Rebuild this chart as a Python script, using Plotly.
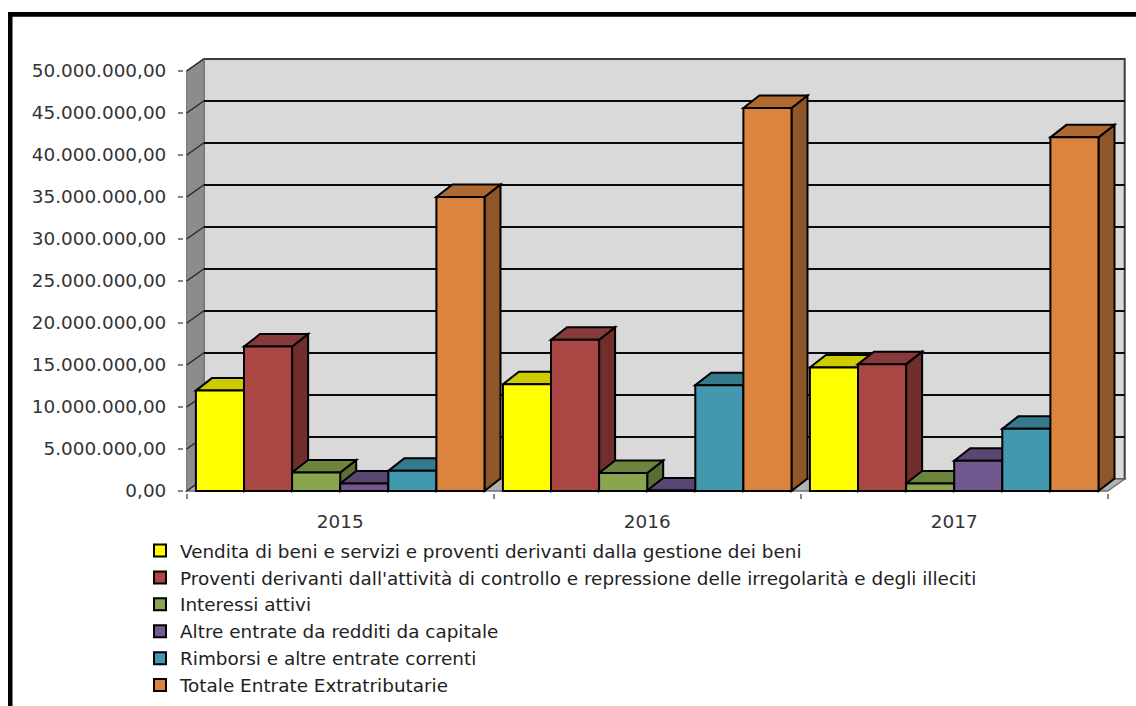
import plotly.graph_objects as go

years = ["2015", "2016", "2017"]
vendita = [11.95e6, 12.7e6, 14.7e6]
proventi = [17.2e6, 18.0e6, 15.1e6]
interessi = [2.2e6, 2.15e6, 0.9e6]
altre = [0.9e6, 0.05e6, 3.6e6]
rimborsi = [2.4e6, 12.6e6, 7.4e6]
totale = [35.0e6, 45.6e6, 42.1e6]

names = [
    "Vendita di beni e servizi e proventi derivanti dalla gestione dei beni",
    "Proventi derivanti dall'attività di controllo e repressione delle irregolarità e degli illeciti",
    "Interessi attivi",
    "Altre entrate da redditi da capitale",
    "Rimborsi e altre entrate correnti",
    "Totale Entrate Extratributarie",
]
series = [vendita, proventi, interessi, altre, rimborsi, totale]
front = ["#FFFF00", "#AA4643", "#89A54E", "#71588F", "#4198AF", "#DB843D"]
top = ["#CCCC00", "#88393A", "#6D843E", "#5A4672", "#34798C", "#AF6931"]
side = ["#A8A800", "#702F2D", "#5A6D33", "#4A3A5E", "#2B6473", "#8F5629"]
y_ticks = [0, 5e6, 10e6, 15e6, 20e6, 25e6, 30e6, 35e6, 40e6, 45e6, 50e6]
y_labels = ["0,00", "5.000.000,00", "10.000.000,00", "15.000.000,00", "20.000.000,00",
            "25.000.000,00", "30.000.000,00", "35.000.000,00", "40.000.000,00",
            "45.000.000,00", "50.000.000,00"]

W, H = 1136, 706
PX_X0, PX_CAT = 186.7, 307.0      # pixel of the first boundary, pixels per category
PX_Y0, PX_UNIT = 491.0, 8.4e-6    # pixel of zero, pixels per unit
L, R, T, B = 184.0, 1127.0, 57.0, 493.0
x_range = [-0.5 - (PX_X0 - L) / PX_CAT, -0.5 + (R - PX_X0) / PX_CAT]
y_range = [-(B - PX_Y0) / PX_UNIT, (PX_Y0 - T) / PX_UNIT]
wall_dx, wall_dy = 17 / PX_CAT, 12 / PX_UNIT
bar_dx, bar_dy = 16 / PX_CAT, 12.5 / PX_UNIT
bargap = 0.06
bar_w = (1 - bargap) / len(series)


def path(points):
    return "M" + " L".join(f"{x:.5f},{y:.1f}" for x, y in points) + " Z"


def face(points, fill, color="#000000", width=2):
    return dict(type="path", path=path(points), xref="x", yref="y", layer="below",
                fillcolor=fill, line=dict(color=color, width=width))


def px_x(p):
    return (p - L) / (R - L)


def px_y(p):
    return (B - p) / (B - T)


xl, xr = -0.5, 2.5
ymax = y_ticks[-1]
shapes = [
    face([(xl + wall_dx, wall_dy), (xr + wall_dx, wall_dy), (xr + wall_dx, ymax + wall_dy),
          (xl + wall_dx, ymax + wall_dy)], "#D9D9D9", "#3C3C3C", 2),
    face([(xl, 0), (xl + wall_dx, wall_dy), (xl + wall_dx, ymax + wall_dy), (xl, ymax)],
         "#8C8C8C", "#808080", 1.5),
    face([(xl, 0), (xr, 0), (xr + wall_dx, wall_dy), (xl + wall_dx, wall_dy)],
         "#B2B2B2", "#707070", 1.5),
]
for t in y_ticks[1:-1]:
    shapes.append(face([(xl + wall_dx, t + wall_dy), (xr + wall_dx, t + wall_dy)], "rgba(0,0,0,0)", "#0A0A0A", 2))
    shapes.append(face([(xl, t), (xl + wall_dx, t + wall_dy)], "rgba(0,0,0,0)", "#2A2A2A", 1.5))
shapes.append(face([(xl, ymax), (xl + wall_dx, ymax + wall_dy)], "rgba(0,0,0,0)", "#2A2A2A", 1.5))
shapes.append(face([(xl, 0), (xl + wall_dx, wall_dy)], "rgba(0,0,0,0)", "#2A2A2A", 1.5))

for c in range(len(years)):
    for s, vals in enumerate(series):
        v = vals[c]
        x0 = c - (1 - bargap) / 2 + s * bar_w
        x1 = x0 + bar_w
        shapes.append(face([(x1, 0), (x1 + bar_dx, bar_dy), (x1 + bar_dx, v + bar_dy), (x1, v)], side[s]))
        shapes.append(face([(x0, v), (x0 + bar_dx, v + bar_dy), (x1 + bar_dx, v + bar_dy), (x1, v)], top[s]))

# outer frame of the picture
shapes.append(dict(type="rect", xref="paper", yref="paper", layer="above",
                   x0=px_x(8), x1=px_x(12.5), y0=px_y(12), y1=px_y(706),
                   fillcolor="#000000", line=dict(width=0)))
shapes.append(dict(type="rect", xref="paper", yref="paper", layer="above",
                   x0=px_x(8), x1=px_x(1136), y0=px_y(12), y1=px_y(16.8),
                   fillcolor="#000000", line=dict(width=0)))

fig = go.Figure()
for s, vals in enumerate(series):
    fig.add_trace(go.Bar(x=years, y=vals, name=names[s],
                         marker=dict(color=front[s], line=dict(color="#000000", width=2))))

fig.update_layout(
    width=W, height=H,
    margin=dict(l=L, r=W - R, t=T, b=H - B, pad=0, autoexpand=False),
    paper_bgcolor="#FFFFFF", plot_bgcolor="rgba(0,0,0,0)",
    barmode="group", bargap=bargap, bargroupgap=0,
    shapes=shapes,
    showlegend=True,
    legend=dict(x=px_x(140), y=px_y(532), xanchor="left", yanchor="top",
                traceorder="normal", bgcolor="rgba(0,0,0,0)",
                font=dict(family="DejaVu Sans", size=18.4, color="#222222")),
    font=dict(family="DejaVu Sans", size=18.4, color="#222222"),
    xaxis=dict(type="category", range=x_range, tickson="boundaries", ticks="outside",
               ticklen=5, tickcolor="#868686", tickwidth=1.5, showgrid=False, showline=False,
               zeroline=False, ticklabelstandoff=16,
               tickfont=dict(family="DejaVu Sans", size=18.4, color="#333333")),
    yaxis=dict(range=y_range, tickvals=y_ticks, ticktext=y_labels, ticks="outside",
               ticklen=5, tickcolor="#868686", tickwidth=1.5, showgrid=False, showline=False,
               zeroline=False, ticklabelstandoff=8,
               tickfont=dict(family="DejaVu Sans", size=18.4, color="#333333")),
)

fig.write_html("out.html", config={"displayModeBar": False},
               post_script="document.body.style.margin='0';")
